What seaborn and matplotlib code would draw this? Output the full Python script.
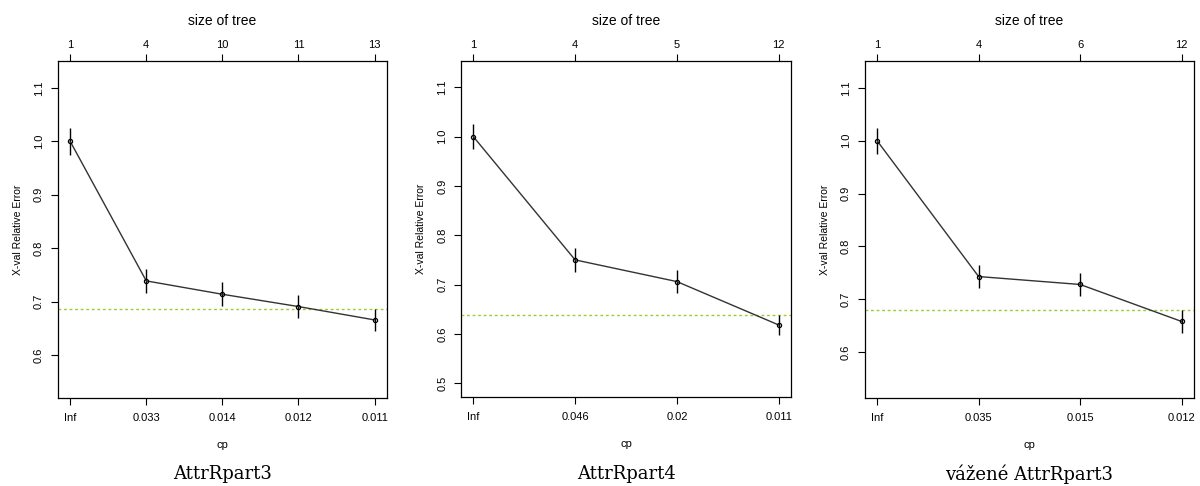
import matplotlib
matplotlib.use("Agg")
import matplotlib.pyplot as plt
import seaborn as sns
import pandas as pd

# cross-validation results
cp_1 = ["Inf", "0.033", "0.014", "0.012", "0.011"]
size_1 = [1, 4, 10, 11, 13]
xerr_1 = [1.000, 0.739, 0.714, 0.691, 0.666]
xstd_1 = [0.025, 0.022, 0.022, 0.022, 0.021]

cp_2 = ["Inf", "0.046", "0.02", "0.011"]
size_2 = [1, 4, 5, 12]
xerr_2 = [1.000, 0.750, 0.706, 0.618]
xstd_2 = [0.025, 0.024, 0.023, 0.021]

cp_3 = ["Inf", "0.035", "0.015", "0.012"]
size_3 = [1, 4, 6, 12]
xerr_3 = [1.000, 0.743, 0.728, 0.658]
xstd_3 = [0.025, 0.022, 0.022, 0.021]

titles = ["AttrRpart3", "AttrRpart4", "vážené AttrRpart3"]

sns.set_style("white")
plt.rcParams['font.family'] = ['Liberation Sans', 'DejaVu Sans']
plt.rcParams['text.color'] = 'black'
plt.rcParams['axes.labelcolor'] = 'black'
plt.rcParams['xtick.color'] = 'black'
plt.rcParams['ytick.color'] = 'black'

fig = plt.figure(figsize=(12, 4.86), dpi=100)

panels = [
    (cp_1, size_1, xerr_1, xstd_1, [0.0483, 0.181, 0.274, 0.6934], (0.52, 1.15), [0.6, 0.7, 0.8, 0.9, 1.0, 1.1]),
    (cp_2, size_2, xerr_2, xstd_2, [0.3842, 0.183, 0.275, 0.6914], (0.472, 1.153), [0.5, 0.6, 0.7, 0.8, 0.9, 1.0, 1.1]),
    (cp_3, size_3, xerr_3, xstd_3, [0.7208, 0.181, 0.274, 0.6934], (0.513, 1.151), [0.6, 0.7, 0.8, 0.9, 1.0, 1.1]),
]

for (cp, size, xerr, xstd, rect, ylim, yticks), title in zip(panels, titles):
    ax = fig.add_axes(rect)
    n = len(cp)
    df = pd.DataFrame({"x": range(1, n + 1), "xerror": xerr, "xstd": xstd})
    # horizontal reference: min xerror + its std
    minline = min(xerr) + xstd[xerr.index(min(xerr))]

    ax.axhline(minline, color="yellowgreen", lw=1.0, ls=(0, (2, 2)), zorder=1)
    ax.vlines(df["x"], df["xerror"] - df["xstd"], df["xerror"] + df["xstd"],
              color="black", lw=1.0, zorder=2)
    sns.lineplot(data=df, x="x", y="xerror", ax=ax, color="#333333", lw=1.0,
                 marker="o", markersize=3, markerfacecolor="none",
                 markeredgecolor="black", markeredgewidth=0.9, zorder=3)

    pad = 0.04 * (n - 1)
    ax.set_xlim(1 - pad, n + pad)
    ax.set_ylim(*ylim)
    ax.set_xticks(range(1, n + 1))
    ax.set_xticklabels(cp)
    ax.set_yticks(yticks)
    ax.set_yticklabels([f"{t:.1f}" for t in yticks], rotation=90, va="center")
    ax.set_xlabel("cp", fontsize=8, labelpad=12)
    ax.set_ylabel("X-val Relative Error", fontsize=7.5, labelpad=8)
    ax.tick_params(axis="both", direction="out", length=5, width=0.8,
                   labelsize=8, color="black", bottom=True, left=True)
    ax.tick_params(axis="x", pad=6)
    ax.tick_params(axis="y", pad=5)
    for sp in ax.spines.values():
        sp.set_color("black")
        sp.set_linewidth(0.9)

    top = ax.twiny()
    top.set_xlim(ax.get_xlim())
    top.set_xticks(range(1, n + 1))
    top.set_xticklabels([str(s) for s in size])
    top.tick_params(axis="x", direction="out", length=5, width=0.8,
                    labelsize=8, color="black", pad=3, top=True)
    top.set_xlabel("size of tree", fontsize=10, labelpad=11)
    for sp in top.spines.values():
        sp.set_visible(False)

    cx = rect[0] + rect[2] / 2
    fig.text(cx, 0.025, title, ha="center", va="center", fontsize=13,
             family=["DejaVu Serif"])

fig.savefig("out.png", dpi=100)
